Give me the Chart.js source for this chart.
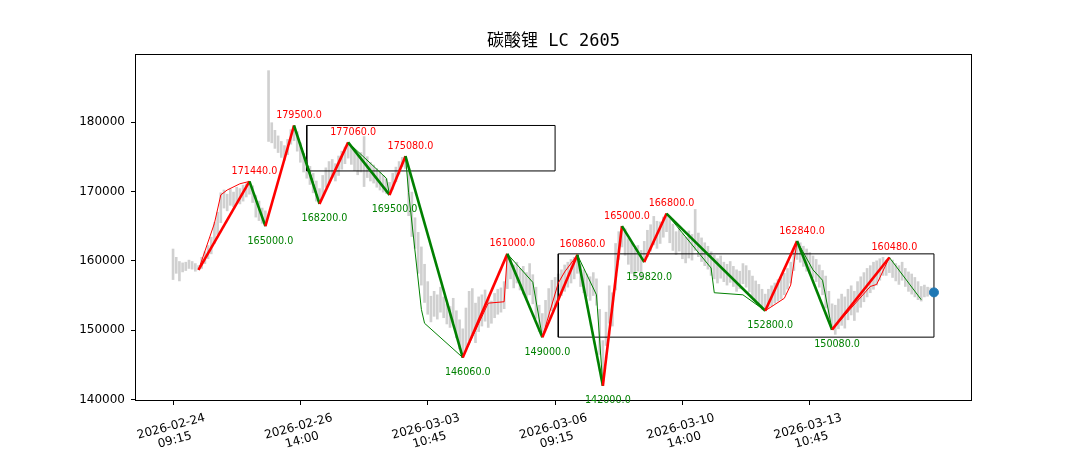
<!DOCTYPE html>
<html>
<head>
<meta charset="utf-8">
<script src="https://cdn.jsdelivr.net/npm/chart.js@4.4.1/dist/chart.umd.min.js"></script>
<style>
  html, body { margin: 0; padding: 0; background: #fff; }
  #wrap { width: 1080px; height: 450px; position: relative; }
</style>
</head>
<body>
<div id="wrap"><canvas id="chart"></canvas></div>
<script>
const TITLE = '碳酸锂 LC 2605';

// x axis: bar index, one label every 40 bars
const xTickIdx = [0, 40, 80, 120, 160, 200];
const xTickDate = ['2026-02-24', '2026-02-26', '2026-03-03', '2026-03-06', '2026-03-10', '2026-03-13'];
const xTickTime = ['09:15', '14:00', '10:45', '09:15', '14:00', '10:45'];
const yTicks = [140000, 150000, 160000, 170000, 180000];

// gray price bars (low / high), one per 15 min bar
const barLow = [
  157300, 158200, 157100, 158400, 158600, 158900, 158800, 158500, 158700, 158900,
  159600, 160300, 161000, 162500, 163800, 165500, 167600, 167200, 168000, 167800,
  168400, 168200, 168600, 169200, 169600, 168400, 166300, 165800, 165400, 165000,
  177200, 177000, 176200, 175600, 174900, 174500, 175300, 176800, 177300, 175800,
  174200, 172800, 171900, 171000, 169800, 168600, 168200, 169300, 170600, 171200,
  172000, 171500, 172300, 173200, 174000, 174800, 173900, 173000, 172400, 172800,
  170700, 172000, 171500, 171200, 170600, 170200, 169900, 169700, 169500, 170300,
  171400, 172500, 173600, 173300, 166500, 163500, 161800, 158200, 156500, 154000,
  152300, 151200, 152000, 151600, 152600, 151800, 150900, 150400, 151100, 148900,
  147300, 146060, 147000, 148500, 149500, 148200, 149800, 150600, 151300, 150400,
  151000, 151800, 152300, 152600, 153100, 156000, 157400, 156100, 156800, 155800,
  155200, 154600, 155100, 153800, 151700, 149800, 149000, 150400, 151700, 152800,
  153500, 154300, 155000, 155600, 156200, 156800, 157400, 158200, 156300, 155400,
  154900, 154300, 155000, 153600, 146500, 142000, 147800, 151000, 150600, 155800,
  160200, 162000, 160800, 159500, 158200, 157600, 158500, 157300, 159820, 160600,
  161400, 162300, 161800, 162500, 163400, 164200, 162600, 161500, 160900, 161400,
  160300, 159700, 160400, 160100, 161500, 160600, 159900, 159300, 158800, 157900,
  157400, 156800, 157500, 157000, 156500, 156900, 156300, 155600, 156000, 156700,
  156200, 155500, 154800, 154200, 153600, 153000, 152800, 153200, 153500, 153900,
  154200, 154500, 155100, 155900, 156800, 158600, 160200, 159800, 159200, 158500,
  158100, 157600, 157000, 156200, 155100, 153200, 151400, 150080, 149400, 150200,
  150700, 150300, 151500, 152200, 151400, 152600, 153300, 154100, 154800, 155400,
  155900, 156500, 157200, 157900, 157900, 158300, 157600, 157100, 156600, 157200,
  156300, 155600, 155200, 154800, 154400, 154200, 154800, 154900, 155100, 155200
];
const barHigh = [
  161700, 160500, 159900, 159700, 159800, 160100, 159900, 159600, 159300, 160500,
  161300, 162200, 163400, 165500, 167000, 169800, 170200, 169600, 170300, 169900,
  170600, 170400, 170900, 171100, 171440, 170800, 169400, 168600, 167600, 167200,
  187400, 179900, 178800, 178000, 177200, 176600, 177500, 178900, 179500, 178600,
  177000, 175500, 174500, 173600, 172600, 171500, 170400, 172300, 173400, 174300,
  174600, 174000, 175100, 175800, 176400, 177060, 176500, 175800, 175200, 175600,
  177900, 175000, 174200, 173800, 173300, 172800, 172300, 171800, 171300, 172600,
  173500, 174300, 174900, 175080, 172800, 169900, 166200, 164100, 162000, 159500,
  157000, 154900, 155600, 155100, 156200, 154800, 153800, 153400, 154600, 152800,
  151500, 150200, 153200, 155600, 156000, 153900, 154800, 155100, 155800, 154600,
  154200, 155300, 155900, 156100, 157000, 161000, 160300, 159400, 159800, 158900,
  159200, 158300, 159600, 158000, 156200, 153600, 152400, 154300, 156000, 157200,
  157600, 158100, 158700, 159400, 159800, 160200, 160500, 160860, 159500, 158700,
  158100, 157700, 158300, 157400, 153000, 148500, 152600, 156400, 155400, 162500,
  164200, 165000, 164600, 163200, 162600, 161800, 162200, 161500, 162800, 164400,
  165200, 166400, 165700, 165600, 166300, 166800, 166400, 165300, 164200, 164800,
  163900, 163400, 164300, 163800, 167400, 164000, 163300, 162600, 162100, 161300,
  160800, 160300, 160700, 159800, 159500, 159900, 159200, 158700, 158500, 159600,
  159300, 158600, 157800, 157100, 156600, 155900, 155200, 155900, 156400, 156800,
  157300, 157600, 158200, 158900, 159800, 161800, 162840, 162600, 162100, 161700,
  161200, 160700, 160200, 159400, 158600, 157800, 155600, 153800, 153600, 154500,
  155200, 154800, 155900, 156400, 155600, 157000, 157700, 158300, 158900, 159300,
  159800, 160000, 160300, 160500, 160100, 160480, 160100, 159600, 159300, 159800,
  158900, 158400, 158100, 157600, 157000, 156300, 156500, 156200, 156100, 156000
];

// thick zigzag (segments)
const segIdx = [8, 24, 29, 38, 46, 55, 68, 73, 91, 105, 116, 127, 135, 141, 148, 155, 186, 196, 207, 225];
const segVal = [158700, 171440, 165000, 179500, 168200, 177060, 169500, 175080, 146060, 161000,
                149000, 160860, 142000, 165000, 159820, 166800, 152800, 162840, 150080, 160480];

// thin zigzag (strokes)
const biIdx = [8, 13, 15, 17, 21, 24, 29, 38, 43, 46, 55, 67, 68, 73, 74, 78, 79, 91, 99, 104,
               105, 113, 116, 121, 123, 127, 133, 135, 141, 148, 155, 169, 170, 179, 186, 192, 194, 196,
               201, 204, 207, 219, 221, 225, 235];
const biVal = [158700, 165400, 169500, 170200, 171100, 171440, 165000, 179500, 172800, 168200,
               177060, 171900, 169500, 175080, 169800, 153000, 151000, 146060, 153900, 154100,
               161000, 156900, 149000, 156800, 158400, 160860, 155100, 142000, 165000, 159820,
               166800, 158960, 155400, 155100, 152800, 154600, 156500, 162840,
               158700, 157200, 150080, 156300, 156600, 160480, 154400];

// pivot boxes
const boxLeft = [42, 121];
const boxRight = [120, 239];
const boxTop = [179500, 161000];
const boxBottom = [172950, 149000];

const lastIdx = 239;
const lastVal = 155450;

const bars = barLow.map((lo, i) => ({ x: i, y: [lo, barHigh[i]] }));
const segPoints = segIdx.map((v, i) => ({ x: v, y: segVal[i] }));
const biPoints = biIdx.map((v, i) => ({ x: v, y: biVal[i] }));
const dirColor = (c) => (c.p1.parsed.y >= c.p0.parsed.y ? 'red' : 'green');

const boxSets = boxLeft.map((l, i) => ({
  type: 'line',
  data: [
    { x: l, y: boxBottom[i] }, { x: boxRight[i], y: boxBottom[i] },
    { x: boxRight[i], y: boxTop[i] }, { x: l, y: boxTop[i] }, { x: l, y: boxBottom[i] }
  ],
  borderColor: '#000',
  borderWidth: 1,
  pointRadius: 0,
  tension: 0,
  order: 4
}));

const frame = {
  id: 'frame',
  afterDatasetsDraw(chart) {
    const { ctx, chartArea: a } = chart;
    ctx.save();
    ctx.strokeStyle = '#000';
    ctx.lineWidth = 1;
    ctx.strokeRect(Math.round(a.left) + 0.5, Math.round(a.top) + 0.5,
      Math.round(a.right - a.left) - 1, Math.round(a.bottom - a.top) - 1);
    ctx.restore();
  }
};

const pivotLabels = {
  id: 'pivotLabels',
  afterDatasetsDraw(chart) {
    const { ctx, scales: { x, y } } = chart;
    ctx.save();
    ctx.font = '9.6px "DejaVu Sans"';
    ctx.textAlign = 'center';
    ctx.textBaseline = 'middle';
    for (let i = 1; i < segIdx.length; i++) {
      const up = segVal[i] > segVal[i - 1];
      const px = x.getPixelForValue(segIdx[i]) + 5;
      const py = y.getPixelForValue(segVal[i]) + (up ? -10 : 15);
      ctx.fillStyle = up ? 'red' : 'green';
      ctx.fillText(segVal[i].toFixed(1), px, py);
    }
    ctx.restore();
  }
};

// rotated two-line date labels, centred under each tick
const xLabels = {
  id: 'xLabels',
  afterDraw(chart) {
    const { ctx, chartArea, scales: { x } } = chart;
    const ang = -15 * Math.PI / 180;
    const lineH = 14;
    ctx.save();
    ctx.font = '12px "DejaVu Sans"';
    ctx.fillStyle = '#000';
    ctx.textAlign = 'center';
    ctx.textBaseline = 'middle';
    xTickIdx.forEach((v, i) => {
      const w = Math.max(ctx.measureText(xTickDate[i]).width, ctx.measureText(xTickTime[i]).width);
      const h = lineH * 2;
      const bh = w * Math.sin(-ang) + h * Math.cos(ang);
      const cx = x.getPixelForValue(v);
      const cy = chartArea.bottom + 10 + bh / 2;
      ctx.save();
      ctx.translate(cx, cy);
      ctx.rotate(ang);
      ctx.fillText(xTickDate[i], 0, -lineH / 2);
      ctx.fillText(xTickTime[i], 0, lineH / 2);
      ctx.restore();
    });
    ctx.restore();
  }
};

new Chart(document.getElementById('chart'), {
  type: 'bar',
  data: {
    datasets: [
      {
        type: 'bar',
        data: bars,
        backgroundColor: '#d0d0d0',
        barThickness: 2,
        order: 10
      },
      {
        type: 'line',
        data: biPoints,
        borderColor: 'green',
        segment: { borderColor: dirColor },
        borderWidth: 1,
        pointRadius: 0,
        tension: 0,
        order: 3
      },
      {
        type: 'line',
        data: segPoints,
        borderColor: 'green',
        segment: { borderColor: dirColor },
        borderWidth: 2.6,
        pointRadius: 0,
        tension: 0,
        order: 2
      },
      ...boxSets,
      {
        type: 'scatter',
        data: [{ x: lastIdx, y: lastVal }],
        backgroundColor: '#1f77b4',
        borderColor: '#1f77b4',
        pointRadius: 4.5,
        order: 1
      }
    ]
  },
  options: {
    responsive: true,
    maintainAspectRatio: false,
    animation: false,
    events: [],
    layout: { padding: { left: 0, right: 108, top: 19.6, bottom: 0 } },
    plugins: {
      legend: { display: false },
      tooltip: { enabled: false },
      title: {
        display: true,
        fullSize: false,
        text: TITLE,
        color: '#000',
        font: { size: 17, weight: 'normal', family: '"DejaVu Sans Mono", "Noto Sans CJK SC", sans-serif' },
        padding: { top: 12, bottom: 2 }
      }
    },
    scales: {
      x: {
        type: 'linear',
        offset: false,
        min: -11.95,
        max: 250.95,
        grid: { display: true, offset: false, drawOnChartArea: false, drawTicks: true, tickLength: 4, color: '#000' },
        border: { display: false },
        ticks: { display: false },
        afterBuildTicks: (s) => { s.ticks = xTickIdx.map((v) => ({ value: v })); },
        afterFit: (s) => { s.height = 49; }
      },
      y: {
        min: 139800,
        max: 189800,
        grid: { display: true, drawOnChartArea: false, drawTicks: true, tickLength: 4, color: '#000' },
        border: { display: false },
        ticks: {
          color: '#000',
          padding: 6,
          font: { size: 12, family: '"DejaVu Sans"' },
          callback: (v) => String(v)
        },
        afterBuildTicks: (s) => { s.ticks = yTicks.map((v) => ({ value: v })); },
        afterFit: (s) => { s.width = 135; }
      }
    }
  },
  plugins: [frame, pivotLabels, xLabels]
});
</script>
</body>
</html>
